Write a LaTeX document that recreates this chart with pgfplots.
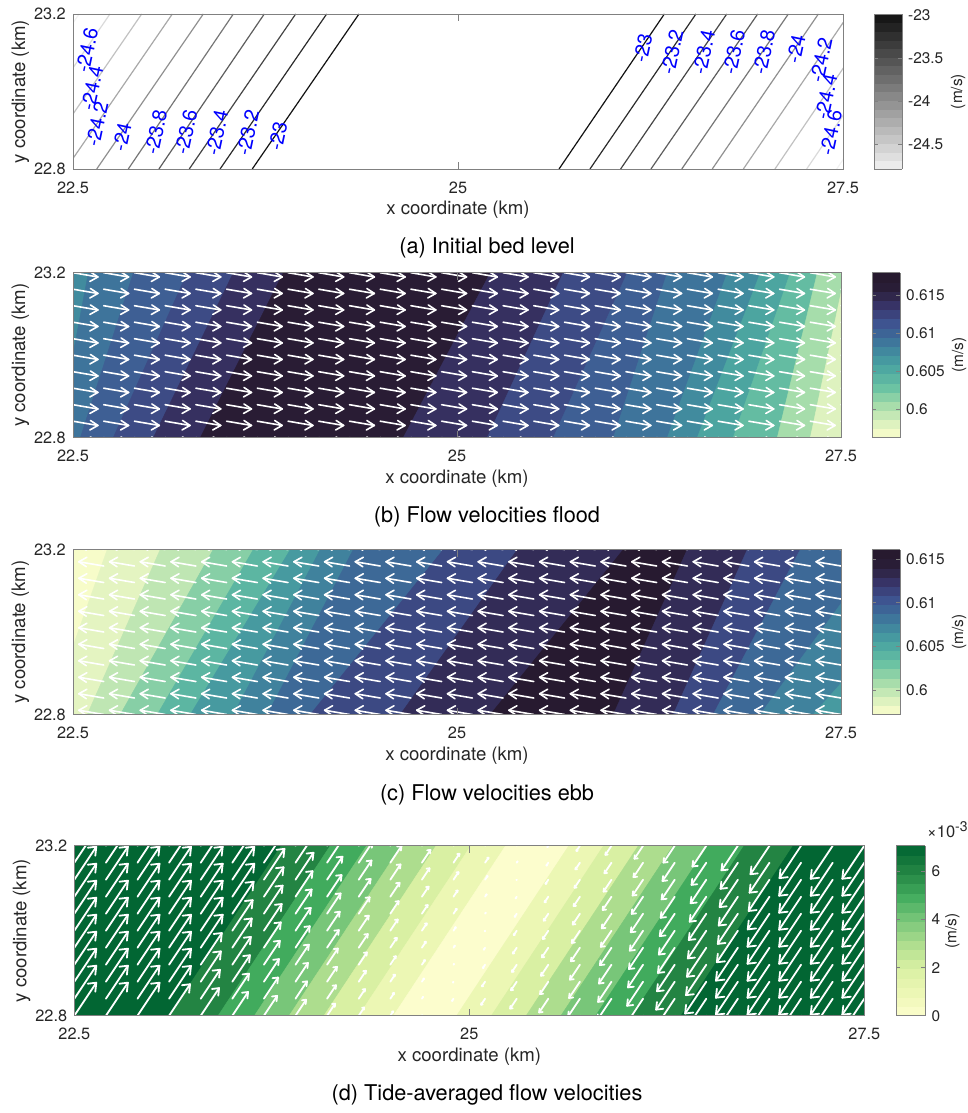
\documentclass[border=0pt]{standalone}
\usepackage{fontspec}
\setmainfont{TeX Gyre Heros}
\usepackage{pgfplots}
\usepackage{pgfplotstable}
\pgfplotsset{compat=1.18}

\definecolor{framegray}{RGB}{128,128,128}
\definecolor{labelgray}{RGB}{38,38,38}

% quiver grid (km); a = tide-averaged velocity along the crest, 1e-3 m/s (positive towards NE)
\pgfplotstableread{
x y a
22.5 22.80 7.06
22.7 22.80 7.06
22.9 22.80 7.06
23.1 22.80 6.73
23.3 22.80 5.90
23.5 22.80 5.07
23.7 22.80 4.24
23.9 22.80 3.41
24.1 22.80 2.58
24.3 22.80 1.75
24.5 22.80 0.91
24.7 22.80 0.08
24.9 22.80 -0.75
25.1 22.80 -1.58
25.3 22.80 -2.41
25.5 22.80 -3.24
25.7 22.80 -4.07
25.9 22.80 -4.90
26.1 22.80 -5.73
26.3 22.80 -6.56
26.5 22.80 -7.06
26.7 22.80 -7.06
26.9 22.80 -7.06
27.1 22.80 -7.06
27.3 22.80 -7.06
27.5 22.80 -7.06
22.5 22.84 7.06
22.7 22.84 7.06
22.9 22.84 7.06
23.1 22.84 7.02
23.3 22.84 6.19
23.5 22.84 5.36
23.7 22.84 4.53
23.9 22.84 3.70
24.1 22.84 2.87
24.3 22.84 2.04
24.5 22.84 1.21
24.7 22.84 0.38
24.9 22.84 -0.45
25.1 22.84 -1.28
25.3 22.84 -2.11
25.5 22.84 -2.94
25.7 22.84 -3.78
25.9 22.84 -4.61
26.1 22.84 -5.44
26.3 22.84 -6.27
26.5 22.84 -7.06
26.7 22.84 -7.06
26.9 22.84 -7.06
27.1 22.84 -7.06
27.3 22.84 -7.06
27.5 22.84 -7.06
22.5 22.88 7.06
22.7 22.88 7.06
22.9 22.88 7.06
23.1 22.88 7.06
23.3 22.88 6.49
23.5 22.88 5.66
23.7 22.88 4.83
23.9 22.88 4.00
24.1 22.88 3.17
24.3 22.88 2.34
24.5 22.88 1.50
24.7 22.88 0.67
24.9 22.88 -0.16
25.1 22.88 -0.99
25.3 22.88 -1.82
25.5 22.88 -2.65
25.7 22.88 -3.48
25.9 22.88 -4.31
26.1 22.88 -5.14
26.3 22.88 -5.97
26.5 22.88 -6.80
26.7 22.88 -7.06
26.9 22.88 -7.06
27.1 22.88 -7.06
27.3 22.88 -7.06
27.5 22.88 -7.06
22.5 22.92 7.06
22.7 22.92 7.06
22.9 22.92 7.06
23.1 22.92 7.06
23.3 22.92 6.78
23.5 22.92 5.95
23.7 22.92 5.12
23.9 22.92 4.29
24.1 22.92 3.46
24.3 22.92 2.63
24.5 22.92 1.80
24.7 22.92 0.97
24.9 22.92 0.14
25.1 22.92 -0.69
25.3 22.92 -1.52
25.5 22.92 -2.35
25.7 22.92 -3.19
25.9 22.92 -4.02
26.1 22.92 -4.85
26.3 22.92 -5.68
26.5 22.92 -6.51
26.7 22.92 -7.06
26.9 22.92 -7.06
27.1 22.92 -7.06
27.3 22.92 -7.06
27.5 22.92 -7.06
22.5 22.96 7.06
22.7 22.96 7.06
22.9 22.96 7.06
23.1 22.96 7.06
23.3 22.96 7.06
23.5 22.96 6.25
23.7 22.96 5.42
23.9 22.96 4.59
24.1 22.96 3.76
24.3 22.96 2.92
24.5 22.96 2.09
24.7 22.96 1.26
24.9 22.96 0.43
25.1 22.96 -0.40
25.3 22.96 -1.23
25.5 22.96 -2.06
25.7 22.96 -2.89
25.9 22.96 -3.72
26.1 22.96 -4.55
26.3 22.96 -5.38
26.5 22.96 -6.21
26.7 22.96 -7.04
26.9 22.96 -7.06
27.1 22.96 -7.06
27.3 22.96 -7.06
27.5 22.96 -7.06
22.5 23.00 7.06
22.7 23.00 7.06
22.9 23.00 7.06
23.1 23.00 7.06
23.3 23.00 7.06
23.5 23.00 6.54
23.7 23.00 5.71
23.9 23.00 4.88
24.1 23.00 4.05
24.3 23.00 3.22
24.5 23.00 2.39
24.7 23.00 1.56
24.9 23.00 0.73
25.1 23.00 -0.10
25.3 23.00 -0.93
25.5 23.00 -1.76
25.7 23.00 -2.60
25.9 23.00 -3.43
26.1 23.00 -4.26
26.3 23.00 -5.09
26.5 23.00 -5.92
26.7 23.00 -6.75
26.9 23.00 -7.06
27.1 23.00 -7.06
27.3 23.00 -7.06
27.5 23.00 -7.06
22.5 23.04 7.06
22.7 23.04 7.06
22.9 23.04 7.06
23.1 23.04 7.06
23.3 23.04 7.06
23.5 23.04 6.84
23.7 23.04 6.01
23.9 23.04 5.18
24.1 23.04 4.34
24.3 23.04 3.51
24.5 23.04 2.68
24.7 23.04 1.85
24.9 23.04 1.02
25.1 23.04 0.19
25.3 23.04 -0.64
25.5 23.04 -1.47
25.7 23.04 -2.30
25.9 23.04 -3.13
26.1 23.04 -3.96
26.3 23.04 -4.79
26.5 23.04 -5.62
26.7 23.04 -6.45
26.9 23.04 -7.06
27.1 23.04 -7.06
27.3 23.04 -7.06
27.5 23.04 -7.06
22.5 23.08 7.06
22.7 23.08 7.06
22.9 23.08 7.06
23.1 23.08 7.06
23.3 23.08 7.06
23.5 23.08 7.06
23.7 23.08 6.30
23.9 23.08 5.47
24.1 23.08 4.64
24.3 23.08 3.81
24.5 23.08 2.98
24.7 23.08 2.15
24.9 23.08 1.32
25.1 23.08 0.49
25.3 23.08 -0.34
25.5 23.08 -1.18
25.7 23.08 -2.01
25.9 23.08 -2.84
26.1 23.08 -3.67
26.3 23.08 -4.50
26.5 23.08 -5.33
26.7 23.08 -6.16
26.9 23.08 -6.99
27.1 23.08 -7.06
27.3 23.08 -7.06
27.5 23.08 -7.06
22.5 23.12 7.06
22.7 23.12 7.06
22.9 23.12 7.06
23.1 23.12 7.06
23.3 23.12 7.06
23.5 23.12 7.06
23.7 23.12 6.60
23.9 23.12 5.77
24.1 23.12 4.93
24.3 23.12 4.10
24.5 23.12 3.27
24.7 23.12 2.44
24.9 23.12 1.61
25.1 23.12 0.78
25.3 23.12 -0.05
25.5 23.12 -0.88
25.7 23.12 -1.71
25.9 23.12 -2.54
26.1 23.12 -3.37
26.3 23.12 -4.20
26.5 23.12 -5.03
26.7 23.12 -5.86
26.9 23.12 -6.69
27.1 23.12 -7.06
27.3 23.12 -7.06
27.5 23.12 -7.06
22.5 23.16 7.06
22.7 23.16 7.06
22.9 23.16 7.06
23.1 23.16 7.06
23.3 23.16 7.06
23.5 23.16 7.06
23.7 23.16 6.89
23.9 23.16 6.06
24.1 23.16 5.23
24.3 23.16 4.40
24.5 23.16 3.57
24.7 23.16 2.74
24.9 23.16 1.91
25.1 23.16 1.08
25.3 23.16 0.25
25.5 23.16 -0.59
25.7 23.16 -1.42
25.9 23.16 -2.25
26.1 23.16 -3.08
26.3 23.16 -3.91
26.5 23.16 -4.74
26.7 23.16 -5.57
26.9 23.16 -6.40
27.1 23.16 -7.06
27.3 23.16 -7.06
27.5 23.16 -7.06
22.5 23.20 7.06
22.7 23.20 7.06
22.9 23.20 7.06
23.1 23.20 7.06
23.3 23.20 7.06
23.5 23.20 7.06
23.7 23.20 7.06
23.9 23.20 6.36
24.1 23.20 5.52
24.3 23.20 4.69
24.5 23.20 3.86
24.7 23.20 3.03
24.9 23.20 2.20
25.1 23.20 1.37
25.3 23.20 0.54
25.5 23.20 -0.29
25.7 23.20 -1.12
25.9 23.20 -1.95
26.1 23.20 -2.78
26.3 23.20 -3.61
26.5 23.20 -4.44
26.7 23.20 -5.27
26.9 23.20 -6.10
27.1 23.20 -6.93
27.3 23.20 -7.06
27.5 23.20 -7.06
}\gridtab

\pgfplotsset{
  colormap={bedgray}{gray(0cm)=(0.95); gray(1cm)=(0.07)},
  colormap={deep}{rgb255(0cm)=(253,254,204); rgb255(10cm)=(216,240,188);
    rgb255(20cm)=(165,220,170); rgb255(30cm)=(110,196,163); rgb255(40cm)=(80,172,161);
    rgb255(50cm)=(66,145,159); rgb255(60cm)=(61,112,154); rgb255(70cm)=(62,82,143);
    rgb255(80cm)=(56,52,104); rgb255(90cm)=(42,30,56); rgb255(100cm)=(38,24,44)},
  colormap={ylgn}{rgb255(0cm)=(252,253,205); rgb255(14.2cm)=(236,247,180);
    rgb255(28.3cm)=(217,240,163); rgb255(42.5cm)=(173,221,142); rgb255(56.7cm)=(120,198,121);
    rgb255(70.8cm)=(65,171,93); rgb255(85cm)=(35,132,67); rgb255(100cm)=(0,100,50)},
  panel/.style={
    scale only axis, axis on top,
    xmin=22.5, xmax=27.5, ymin=22.8, ymax=23.2,
    xtick={22.5,25,27.5}, xticklabels={22.5,25,27.5},
    ytick={22.8,23.2}, yticklabels={22.8,23.2},
    tick align=inside, major tick length=7pt,
    every tick/.style={framegray, line width=0.8pt},
    axis line style={framegray, line width=0.8pt},
    tick label style={font=\fontsize{16.3}{16.3}\selectfont, text=labelgray},
    xticklabel style={anchor=base, inner sep=0pt, yshift=-24pt},
    yticklabel style={anchor=east, inner sep=0pt, xshift=-7pt},
    xlabel={x coordinate (km)}, ylabel={y coordinate (km)},
    label style={font=\fontsize{18.6}{18.6}\selectfont, text=labelgray, inner sep=0pt},
    xlabel style={at={([yshift=-45.5pt]axis description cs:0.5,0)}, anchor=base},
    ylabel style={at={([xshift=-48pt]axis description cs:0,0.5)}, anchor=base},
  },
  cbar/.style={
    colorbar sampled,
    colorbar shift/.style={},
    colorbar style={
      scale only axis, width=28pt,
      at={(parent axis.north east)}, anchor=north west, xshift=31pt,
      samples=19,
      axis line style={framegray, line width=0.8pt},
      tick align=inside, major tick length=4pt,
      every tick/.style={framegray, line width=0.8pt},
      yticklabel style={font=\fontsize{15.4}{15.4}\selectfont, text=labelgray,
        anchor=west, inner sep=0pt, xshift=6pt},
      ylabel={(m/s)},
      ylabel style={font=\fontsize{15.4}{15.4}\selectfont, text=labelgray,
        inner sep=0pt, anchor=base, at={([xshift=#1]axis description cs:1,0.5)}},
    },
  },
  vec/.style={white, line width=1.6pt, line cap=round},
}
\tikzset{
  clab/.style={text=blue, rotate=78, font=\fontsize{20}{20}\selectfont, inner sep=0pt},
  caption/.style={anchor=base, font=\fontsize{21.7}{21.7}\selectfont},
}

\begin{document}
\begin{tikzpicture}
\path[use as bounding box] (0pt,0pt) rectangle (968pt,-1113pt);

% ---------------- (a) bed level contours ----------------
\begin{axis}[panel, at={(73pt,-169pt)}, anchor=south west, width=770pt, height=155pt,
  colormap name=bedgray, point meta min=-24.79, point meta max=-22.99,
  cbar=60pt, colorbar style={ytick={-24.5,-24,-23.5,-23}, yticklabels={-24.5,-24,-23.5,-23}}]
\addplot[contour prepared={labels=false}, line width=1.2pt, point meta=explicit]
  table[x index=0, y index=1, meta index=2] {
21.850 22.8 -24.8
22.540 23.2 -24.8

22.049 22.8 -24.6
22.740 23.2 -24.6

22.255 22.8 -24.4
22.946 23.2 -24.4

22.453 22.8 -24.2
23.145 23.2 -24.2

22.654 22.8 -24
23.346 23.2 -24

22.859 22.8 -23.8
23.541 23.2 -23.8

23.058 22.8 -23.6
23.742 23.2 -23.6

23.255 22.8 -23.4
23.946 23.2 -23.4

23.455 22.8 -23.2
24.147 23.2 -23.2

23.664 22.8 -23
24.357 23.2 -23

25.656 22.8 -23
26.340 23.2 -23

25.857 22.8 -23.2
26.545 23.2 -23.2

26.056 22.8 -23.4
26.745 23.2 -23.4

26.253 22.8 -23.6
26.946 23.2 -23.6

26.453 22.8 -23.8
27.145 23.2 -23.8

26.651 22.8 -24
27.340 23.2 -24

26.853 22.8 -24.2
27.539 23.2 -24.2

27.058 22.8 -24.4
27.740 23.2 -24.4

27.264 22.8 -24.6
27.948 23.2 -24.6

27.459 22.8 -24.8
28.143 23.2 -24.8
};
\node[clab] at (axis cs:22.591,23.107) {-24.6};
\node[clab] at (axis cs:22.623,23.009) {-24.4};
\node[clab] at (axis cs:22.656,22.916) {-24.2};
\node[clab] at (axis cs:22.818,22.883) {-24};
\node[clab] at (axis cs:23.039,22.895) {-23.8};
\node[clab] at (axis cs:23.234,22.895) {-23.6};
\node[clab] at (axis cs:23.435,22.893) {-23.4};
\node[clab] at (axis cs:23.636,22.893) {-23.2};
\node[clab] at (axis cs:23.831,22.885) {-23};
\node[clab] at (axis cs:26.201,23.112) {-23};
\node[clab] at (axis cs:26.390,23.102) {-23.2};
\node[clab] at (axis cs:26.597,23.102) {-23.4};
\node[clab] at (axis cs:26.792,23.102) {-23.6};
\node[clab] at (axis cs:26.987,23.102) {-23.8};
\node[clab] at (axis cs:27.195,23.110) {-24};
\node[clab] at (axis cs:27.357,23.081) {-24.2};
\node[clab] at (axis cs:27.390,22.986) {-24.4};
\node[clab] at (axis cs:27.422,22.893) {-24.6};
\end{axis}

% ---------------- (b) flood velocities ----------------
\begin{axis}[panel, at={(73pt,-437.7pt)}, anchor=south west, width=768pt, height=165pt,
  colormap name=deep, point meta min=0.5962, point meta max=0.6180,
  cbar=63pt, colorbar style={ytick={0.6,0.605,0.61,0.615}, yticklabels={0.6,0.605,0.61,0.615}}]
\addplot[patch, patch type=rectangle, shader=flat, point meta=explicit]
  table[x index=0, y index=1, meta index=2] {
22.000 22.8 0.6075
28.600 22.8 0.6075
28.600 23.2 0.6075
22.000 23.2 0.6075
22.398 22.8 0.609
28.600 22.8 0.609
28.600 23.2 0.609
22.600 23.2 0.609
22.548 22.8 0.6105
28.600 22.8 0.6105
28.600 23.2 0.6105
22.893 23.2 0.6105
22.762 22.8 0.612
28.600 22.8 0.612
28.600 23.2 0.612
23.244 23.2 0.612
23.023 22.8 0.614
28.600 22.8 0.614
28.600 23.2 0.614
23.544 23.2 0.614
23.329 22.8 0.6165
28.600 22.8 0.6165
28.600 23.2 0.6165
23.869 23.2 0.6165
24.650 22.8 0.614
28.600 22.8 0.614
28.600 23.2 0.614
25.217 23.2 0.614
25.197 22.8 0.612
28.600 22.8 0.612
28.600 23.2 0.612
25.692 23.2 0.612
25.627 22.8 0.6105
28.600 22.8 0.6105
28.600 23.2 0.6105
26.109 23.2 0.6105
26.018 22.8 0.609
28.600 22.8 0.609
28.600 23.2 0.609
26.369 23.2 0.609
26.369 22.8 0.6075
28.600 22.8 0.6075
28.600 23.2 0.6075
26.760 23.2 0.6075
26.564 22.8 0.6055
28.600 22.8 0.6055
28.600 23.2 0.6055
26.975 23.2 0.6055
26.798 22.8 0.6035
28.600 22.8 0.6035
28.600 23.2 0.6035
27.170 23.2 0.6035
27.085 22.8 0.6005
28.600 22.8 0.6005
28.600 23.2 0.6005
27.346 23.2 0.6005
27.300 22.8 0.598
28.600 22.8 0.598
28.600 23.2 0.598
27.528 23.2 0.598
27.561 22.8 0.5962
28.600 22.8 0.5962
28.600 23.2 0.5962
27.756 23.2 0.5962
};
\addplot[vec, quiver={u=0.162, v=-0.0103}] table[x=x, y=y] {\gridtab};
\addplot[vec, quiver={u=-0.0488, v=0.0121}] table[x expr=\thisrow{x}+0.162, y expr=\thisrow{y}-0.0103] {\gridtab};
\addplot[vec, quiver={u=-0.0521, v=-0.0109}] table[x expr=\thisrow{x}+0.162, y expr=\thisrow{y}-0.0103] {\gridtab};
\end{axis}

% ---------------- (c) ebb velocities ----------------
\begin{axis}[panel, at={(73pt,-714.5pt)}, anchor=south west, width=768pt, height=165pt,
  colormap name=deep, point meta min=0.5972, point meta max=0.6161,
  cbar=63pt, colorbar style={ytick={0.6,0.605,0.61,0.615}, yticklabels={0.6,0.605,0.61,0.615}}]
\addplot[patch, patch type=rectangle, shader=flat, point meta=explicit]
  table[x index=0, y index=1, meta index=2] {
22.000 22.8 0.5975
28.600 22.8 0.5975
28.600 23.2 0.5975
22.000 23.2 0.5975
22.343 22.8 0.5985
28.600 22.8 0.5985
28.600 23.2 0.5985
22.723 23.2 0.5985
22.593 22.8 0.600
28.600 22.8 0.600
28.600 23.2 0.600
23.068 23.2 0.600
22.808 22.8 0.602
28.600 22.8 0.602
28.600 23.2 0.602
23.413 23.2 0.602
23.049 22.8 0.604
28.600 22.8 0.604
28.600 23.2 0.604
23.674 23.2 0.604
23.264 22.8 0.606
28.600 22.8 0.606
28.600 23.2 0.606
23.915 23.2 0.606
23.544 22.8 0.6075
28.600 22.8 0.6075
28.600 23.2 0.6075
24.110 23.2 0.6075
23.765 22.8 0.609
28.600 22.8 0.609
28.600 23.2 0.609
24.325 23.2 0.609
24.045 22.8 0.611
28.600 22.8 0.611
28.600 23.2 0.611
24.911 23.2 0.611
24.631 22.8 0.613
28.600 22.8 0.613
28.600 23.2 0.613
25.393 23.2 0.613
25.217 22.8 0.6155
28.600 22.8 0.6155
28.600 23.2 0.6155
26.083 23.2 0.6155
26.018 22.8 0.613
28.600 22.8 0.613
28.600 23.2 0.613
26.499 23.2 0.613
26.408 22.8 0.611
28.600 22.8 0.611
28.600 23.2 0.611
26.890 23.2 0.611
26.668 22.8 0.609
28.600 22.8 0.609
28.600 23.2 0.609
27.235 23.2 0.609
26.974 22.8 0.6075
28.600 22.8 0.6075
28.600 23.2 0.6075
27.756 23.2 0.6075
27.319 22.8 0.606
28.600 22.8 0.606
28.600 23.2 0.606
28.277 23.2 0.606
};
\addplot[vec, quiver={u=-0.162, v=0.0103}] table[x=x, y=y] {\gridtab};
\addplot[vec, quiver={u=0.0488, v=-0.0121}] table[x expr=\thisrow{x}-0.162, y expr=\thisrow{y}+0.0103] {\gridtab};
\addplot[vec, quiver={u=0.0521, v=0.0109}] table[x expr=\thisrow{x}-0.162, y expr=\thisrow{y}+0.0103] {\gridtab};
\end{axis}

% ---------------- (d) tide-averaged velocities ----------------
\begin{axis}[panel, name=dpanel, at={(74.3pt,-1015.7pt)}, anchor=south west, width=790pt, height=170pt,
  colormap name=ylgn, point meta min=0, point meta max=7.06,
  cbar=31pt, colorbar style={width=29pt, xshift=1pt, ytick={0,2,4,6}, yticklabels={0,2,4,6}}]
\addplot[patch, patch type=rectangle, shader=flat, point meta=explicit]
  table[x index=0, y index=1, meta index=2] {
22.00 22.8 7
28.60 22.8 7
28.60 23.2 7
22.00 23.2 7
23.10 22.8 6
28.60 22.8 6
28.60 23.2 6
23.81 23.2 6
23.41 22.8 5
28.60 22.8 5
28.60 23.2 5
24.12 23.2 5
23.64 22.8 4
28.60 22.8 4
28.60 23.2 4
24.35 23.2 4
23.86 22.8 3
28.60 22.8 3
28.60 23.2 3
24.57 23.2 3
24.08 22.8 2
28.60 22.8 2
28.60 23.2 2
24.79 23.2 2
24.30 22.8 1
28.60 22.8 1
28.60 23.2 1
25.01 23.2 1
24.52 22.8 0
28.60 22.8 0
28.60 23.2 0
25.23 23.2 0
24.92 22.8 1
28.60 22.8 1
28.60 23.2 1
25.63 23.2 1
25.14 22.8 2
28.60 22.8 2
28.60 23.2 2
25.85 23.2 2
25.36 22.8 3
28.60 22.8 3
28.60 23.2 3
26.07 23.2 3
25.58 22.8 4
28.60 22.8 4
28.60 23.2 4
26.29 23.2 4
25.80 22.8 5
28.60 22.8 5
28.60 23.2 5
26.51 23.2 5
26.03 22.8 6
28.60 22.8 6
28.60 23.2 6
26.74 23.2 6
26.34 22.8 7
28.60 22.8 7
28.60 23.2 7
27.05 23.2 7
};
\addplot[vec, line width=1.8pt, quiver={u=0.01972*\thisrow{a}, v=0.0110*\thisrow{a}}] table[x=x, y=y] {\gridtab};
\addplot[vec, line width=1.8pt, quiver={u=-0.00762*\thisrow{a}, v=-0.000333*\thisrow{a}}]
  table[x expr=\thisrow{x}+0.01972*\thisrow{a}, y expr=\thisrow{y}+0.0110*\thisrow{a}] {\gridtab};
\addplot[vec, line width=1.8pt, quiver={u=-0.000896*\thisrow{a}, v=-0.003*\thisrow{a}}]
  table[x expr=\thisrow{x}+0.01972*\thisrow{a}, y expr=\thisrow{y}+0.0110*\thisrow{a}] {\gridtab};
\end{axis}
\node[anchor=base west, inner sep=0pt, text=labelgray, font=\fontsize{16.5}{16.5}\selectfont]
  at ([xshift=62.7pt, yshift=8pt]dpanel.north east) {×10\textsuperscript{\fontsize{14}{14}\selectfont -3}};

\node[caption] at (487pt,-253.5pt) {(a) Initial bed level};
\node[caption] at (487pt,-522.7pt) {(b) Flow velocities flood};
\node[caption] at (487pt,-800.5pt) {(c) Flow velocities ebb};
\node[caption] at (487pt,-1100pt) {(d) Tide-averaged flow velocities};
\end{tikzpicture}
\end{document}
